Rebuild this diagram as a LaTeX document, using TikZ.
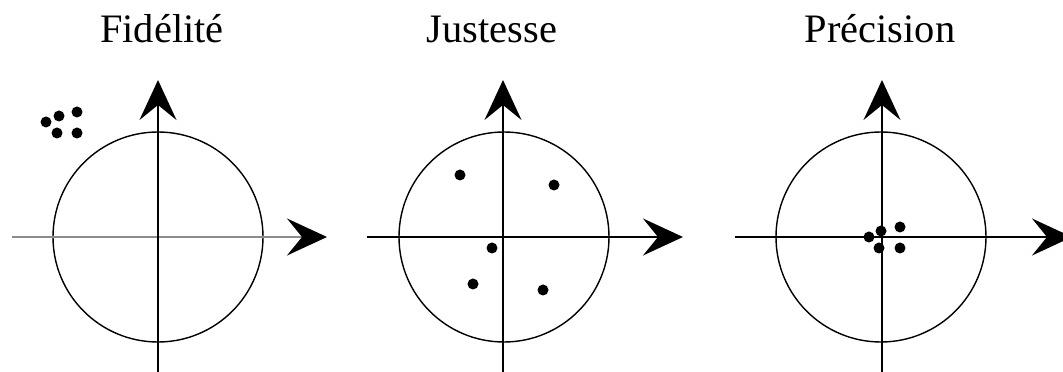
\documentclass[tikz,border=0pt]{standalone}
\usepackage{fontspec}
\setmainfont{Liberation Serif}
\usetikzlibrary{arrows.meta}

\begin{document}
\begin{tikzpicture}[x=0.02cm,y=0.02cm,
    axis/.style={line width=1.1pt,-{Stealth[length=0.8cm,width=0.74cm,inset=0.3cm,black]}},
    target/.style={line width=0.8pt},
    shot/.style={fill=black},
    title/.style={anchor=base,font=\fontsize{23}{28}\selectfont}]
  \useasboundingbox (0,0) rectangle (1063,372);
  % Fidelite
  \node[title] (fidelite) at (162,329) {Fidélité};
  \draw[target] (158,135) circle (105);
  \draw[axis,black!45] (12,135) -- (327,135);
  \draw[axis] (158,0) -- (158,292);
  \fill[shot] (46,250) circle (5.5);
  \fill[shot] (59,256) circle (5.5);
  \fill[shot] (77,260) circle (5.5);
  \fill[shot] (57,239) circle (5.5);
  \fill[shot] (77,239) circle (5.5);
  % Justesse
  \node[title] (justesse) at (492,329) {Justesse};
  \draw[target] (504,135) circle (105);
  \draw[axis] (367,135) -- (683,135);
  \draw[axis] (503,0) -- (503,292);
  \fill[shot] (460,197) circle (5.5);
  \fill[shot] (554,187) circle (5.5);
  \fill[shot] (492,124) circle (5.5);
  \fill[shot] (473,88) circle (5.5);
  \fill[shot] (543,82) circle (5.5);
  % Precision
  \node[title] (precision) at (880,329) {Précision};
  \draw[target] (881,135) circle (105);
  \draw[axis] (735,135) -- (1072,135);
  \draw[axis] (882,0) -- (882,292);
  \fill[shot] (869,135) circle (5.5);
  \fill[shot] (881,141) circle (5.5);
  \fill[shot] (900,145) circle (5.5);
  \fill[shot] (879,124) circle (5.5);
  \fill[shot] (900,124) circle (5.5);
\end{tikzpicture}
\end{document}
